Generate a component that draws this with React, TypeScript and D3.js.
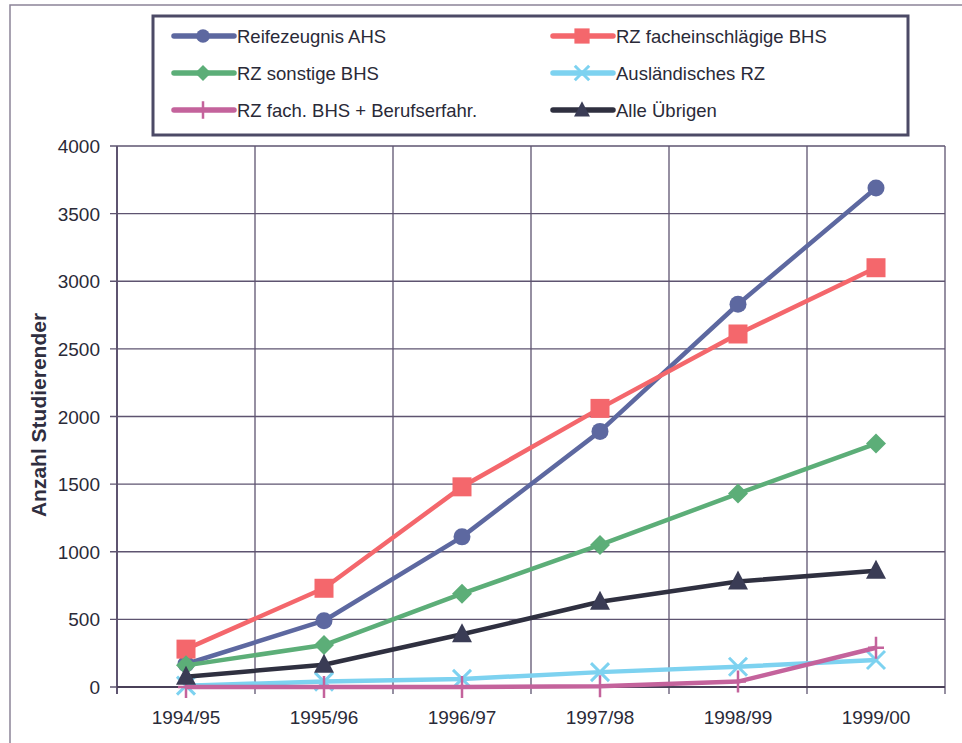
import * as d3 from "d3";

const categories = ["1994/95", "1995/96", "1996/97", "1997/98", "1998/99", "1999/00"];
const yTicks = [0, 500, 1000, 1500, 2000, 2500, 3000, 3500, 4000];

const reifeAhs = [170, 490, 1110, 1890, 2830, 3690];
const rzFachBhs = [280, 730, 1480, 2060, 2610, 3100];
const rzSonstBhs = [160, 310, 690, 1050, 1430, 1800];
const auslRz = [10, 40, 60, 110, 150, 200];
const rzFachBeruf = [0, 0, 0, 5, 40, 290];
const alleUebrigen = [75, 165, 390, 630, 780, 860];

type Marker = "circle" | "square" | "diamond" | "x" | "plus" | "triangle";
interface Series { name: string; values: number[]; color: string; marker: Marker; }

const series: Series[] = [
  { name: "Reifezeugnis AHS", values: reifeAhs, color: "#5d68a0", marker: "circle" },
  { name: "RZ facheinschlägige BHS", values: rzFachBhs, color: "#f4676c", marker: "square" },
  { name: "RZ sonstige BHS", values: rzSonstBhs, color: "#5cae78", marker: "diamond" },
  { name: "Ausländisches RZ", values: auslRz, color: "#7dd2f0", marker: "x" },
  { name: "RZ fach. BHS + Berufserfahr.", values: rzFachBeruf, color: "#c4639c", marker: "plus" },
  { name: "Alle Übrigen", values: alleUebrigen, color: "#2f3040", marker: "triangle" },
];

const W = 962, H = 743;
const plot = { left: 117, right: 945, top: 146, bottom: 687 };
const FONT = "'Liberation Sans', Arial, sans-serif";
const GRID = "#5e5470";

function MarkerShape({ kind, x, y, color, k = 1 }: { kind: Marker; x: number; y: number; color: string; k?: number }) {
  switch (kind) {
    case "circle":
      return <circle cx={x} cy={y} r={8.5 * k} fill={color} />;
    case "square":
      return <rect x={x - 9.5 * k} y={y - 9.5 * k} width={19 * k} height={19 * k} fill={color} />;
    case "diamond":
      return <path d={`M${x},${y - 10 * k}L${x + 10 * k},${y}L${x},${y + 10 * k}L${x - 10 * k},${y}Z`} fill={color} />;
    case "triangle":
      return <path d={`M${x},${y - 11 * k}L${x + 10 * k},${y + 8 * k}L${x - 10 * k},${y + 8 * k}Z`} fill="#3a3c55" />;
    case "x":
      return (
        <path d={`M${x - 9 * k},${y - 9 * k}L${x + 9 * k},${y + 9 * k}M${x + 9 * k},${y - 9 * k}L${x - 9 * k},${y + 9 * k}`}
          stroke={color} strokeWidth={3} />
      );
    case "plus":
      return (
        <path d={`M${x},${y - 11 * k}L${x},${y + 11 * k}M${x - 8 * k},${y}L${x + 8 * k},${y}`}
          stroke={color} strokeWidth={2.5} />
      );
  }
}

export default function App() {
  const x = d3.scaleBand<string>().domain(categories).range([plot.left, plot.right]).padding(0);
  const y = d3.scaleLinear().domain([0, 4000]).range([plot.bottom, plot.top]);
  const cx = (c: string) => (x(c) ?? 0) + x.bandwidth() / 2;

  const line = d3.line<number>()
    .x((_, i) => cx(categories[i]))
    .y((v) => y(v));

  const boundaries = categories.map((c) => x(c) ?? 0).concat([plot.right]);

  const legendCols = [174, 553];
  const legendRows = [36, 73, 110];

  return (
    <svg width={W} height={H} style={{ display: "block", position: "absolute", left: 0, top: 0, background: "#fff" }}
      fontFamily={FONT}>
      <rect x={0} y={0} width={W} height={H} fill="#fff" />
      {/* outer frame */}
      <path d={`M10,${H}L10,5L${W},5`} fill="none" stroke="#8c8498" strokeWidth={1.5} />

      {/* grid */}
      {yTicks.map((t) => (
        <line key={"h" + t} x1={plot.left - 7} x2={plot.right} y1={y(t)} y2={y(t)} stroke={GRID} strokeWidth={1.3} />
      ))}
      {boundaries.map((b, i) => (
        <line key={"v" + i} x1={b} x2={b} y1={plot.top} y2={plot.bottom + 7} stroke={GRID} strokeWidth={i === 0 ? 2 : 1.3} />
      ))}
      <line x1={plot.left} x2={plot.right} y1={plot.bottom} y2={plot.bottom} stroke="#4a4058" strokeWidth={1.8} />

      {/* y tick labels */}
      {yTicks.map((t) => (
        <text key={"yl" + t} x={100} y={y(t) + 7} textAnchor="end" fontSize={19} fill="#2a2a38">{t}</text>
      ))}
      {/* x labels */}
      {categories.map((c) => (
        <text key={c} x={cx(c)} y={724} textAnchor="middle" fontSize={19} fill="#2a2a38">{c}</text>
      ))}
      <text transform={`translate(46,415) rotate(-90)`} textAnchor="middle" fontSize={21} fontWeight="bold" fill="#2f2e40">
        Anzahl Studierender
      </text>

      {/* series */}
      {series.map((s) => (
        <g key={s.name}>
          <path d={line(s.values) ?? ""} fill="none" stroke={s.color} strokeWidth={4.5} strokeLinejoin="round" />
          {s.values.map((v, i) => (
            <MarkerShape key={i} kind={s.marker} x={cx(categories[i])} y={y(v)} color={s.color} />
          ))}
        </g>
      ))}

      {/* legend */}
      <rect x={153} y={16} width={755} height={119} fill="#fff" stroke="#4c4a66" strokeWidth={3} />
      {series.map((s, i) => {
        const lx = legendCols[i % 2];
        const ly = legendRows[Math.floor(i / 2)];
        return (
          <g key={"lg" + s.name}>
            <line x1={lx} x2={lx + 60} y1={ly} y2={ly} stroke={s.color} strokeWidth={5.5} strokeLinecap="round" />
            <MarkerShape kind={s.marker} x={lx + 29} y={ly} color={s.color} k={0.8} />
            <text x={lx + 63} y={ly + 7} fontSize={18.5} fill="#2a2a38">{s.name}</text>
          </g>
        );
      })}
    </svg>
  );
}
